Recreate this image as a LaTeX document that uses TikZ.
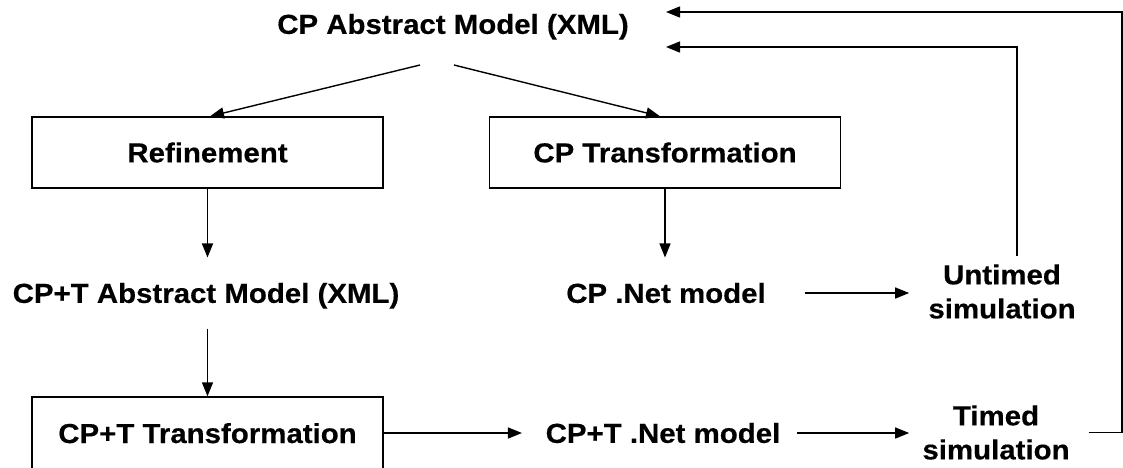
\documentclass[tikz,border=0pt]{standalone}
\usepackage{fontspec}
\setmainfont{Liberation Sans}
\newfontfamily\heavysans{Liberation Sans Bold}[FakeBold=0.4]
\usepackage{graphicx}
\usetikzlibrary{arrows.meta}
% slightly widened heavy lettering
\newcommand{\widetext}[1]{\scalebox{1.07}[1]{#1}}
\newcommand{\lblfont}{\heavysans\fontsize{27.5}{34}\selectfont}
\begin{document}
\begin{tikzpicture}[x=1pt,y=-1pt,
  line width=1.4pt,
  txt/.style={font=\lblfont, inner sep=0pt,
    text height=19.7pt, text depth=0pt, xscale=1.07},
  txtii/.style={font=\lblfont, inner sep=0pt, align=center, xscale=1.07},
  stepbox/.style={draw, font=\lblfont, inner sep=0pt,
    minimum width=351pt, minimum height=71pt, text height=19.7pt, text depth=0pt},
  arr/.style={-{Triangle[length=14pt,width=11pt]}}]
\clip (0,0) rectangle (1123,467);

% labels and boxes
\node[txt] (top) at (453,24) {CP Abstract Model (XML)};
\node[stepbox] (ref) at (207.5,152.5) {\widetext{Refinement}};
\node[stepbox] (cpt) at (665,152.5) {\widetext{CP Transformation}};
\node[txt] (cpta) at (206,293) {CP+T Abstract Model (XML)};
\node[txt] (cpnet) at (666,293) {CP .Net model};
\node[txtii] (untimed) at (1002,291.5) {Untimed\\simulation};
\node[draw, font=\lblfont, inner sep=0pt,
  minimum width=351pt, text height=46pt, text depth=60pt, anchor=base]
  (ptbox) at (207.5,443) {\widetext{CP+T Transformation}};
\node[txt] (ptnet) at (663,433) {CP+T .Net model};
\node[txtii] (timed) at (996,432.5) {Timed\\simulation};

% free ends of the connectors
\coordinate (s1) at (420,65);
\coordinate (s2) at (454,65);
\coordinate (in1) at (666,12);
\coordinate (in2) at (666,47);

% connectors
\draw[arr] (s1) -- ([xshift=2.5pt]ref.north);
\draw[arr] (s2) -- ([xshift=-5pt]cpt.north);
\draw[arr, shorten >=25pt] (ref.south) -- (ref.south |- cpta.north);
\draw[arr, shorten <=25pt] (ptbox.north |- cpta.south) -- (ptbox.north);
\draw[arr, shorten >=25pt] (cpt.south) -- (cpt.south |- cpnet.north);
\draw[arr, shorten <=39pt, shorten >=18.5pt] (cpnet.east) -- (cpnet.east -| untimed.west);
\draw[arr, shorten >=23pt] (ptbox.east |- ptnet.west) -- (ptnet.west);
\draw[arr, shorten <=16pt, shorten >=12.5pt] (ptnet.east) -- (ptnet.east -| timed.west);
\draw[arr] ([xshift=15pt,yshift=8pt]untimed.north) |- (in2);
\draw[arr] ([xshift=18.5pt]timed.east) -- ++(33,0) |- (in1);
\end{tikzpicture}
\end{document}
